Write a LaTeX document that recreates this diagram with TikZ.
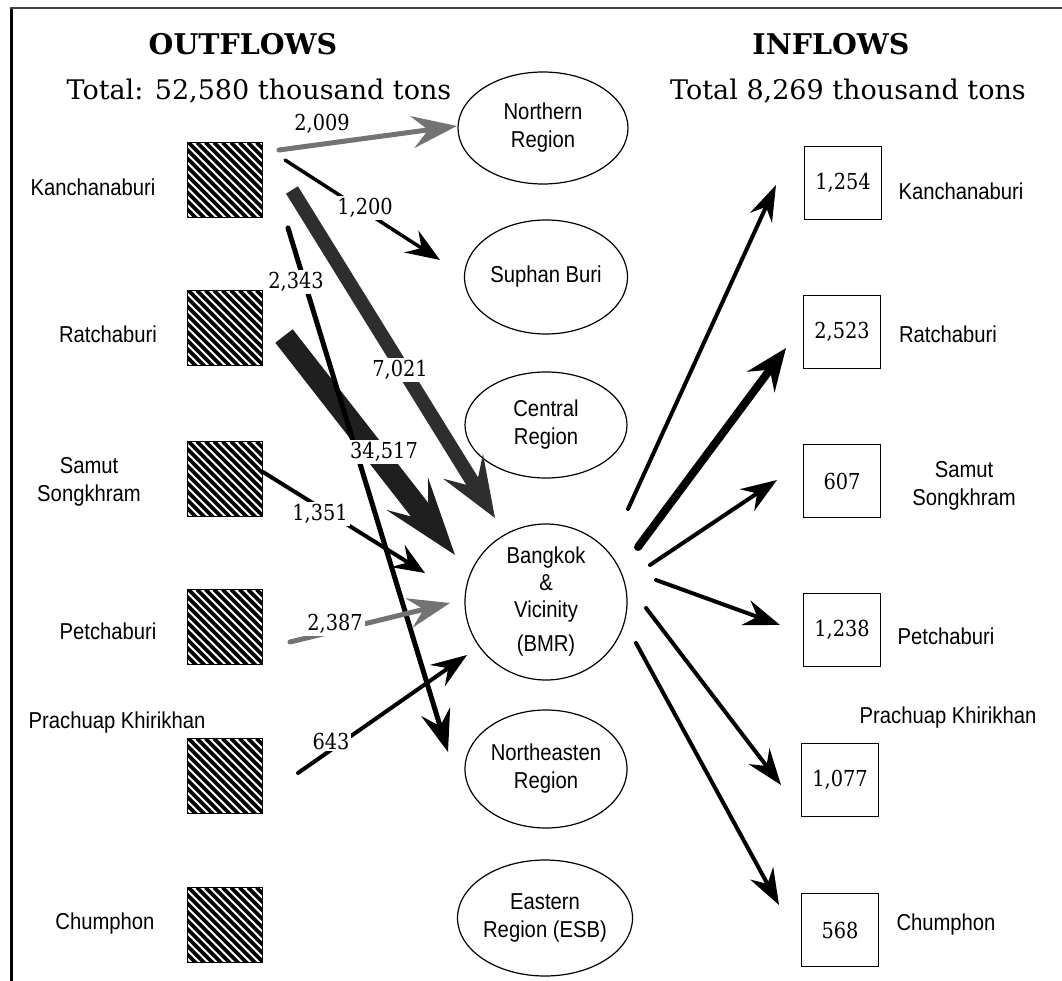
\documentclass[tikz,border=0pt]{standalone}
\usepackage{fontspec}
\setmainfont{DejaVu Serif}
\newfontfamily\lab[FakeStretch=0.88]{Liberation Sans}
\newfontfamily\numf[FakeStretch=0.88]{DejaVu Serif}
\usetikzlibrary{arrows.meta,shapes.geometric}
\begin{document}
\begin{tikzpicture}[x=1pt,y=-1pt,
  hbox/.style={draw, line width=1.5pt, minimum width=75pt, minimum height=75pt, inner sep=0pt,
    path picture={\foreach \i in {-84,-75.5,...,80}{\draw[line width=3.6pt] ([xshift=\i pt]path picture bounding box.north west) -- ++(90,90);}}},
  rbox/.style={draw, line width=1.3pt, minimum width=77pt, minimum height=73pt, inner sep=0pt, font=\numf\fontsize{22}{24}\selectfont},
  ell/.style={draw, ellipse, line width=1.2pt, inner sep=0pt, align=center, font=\lab\fontsize{23}{28}\selectfont},
  lbl/.style={align=center, inner sep=0pt, font=\lab\fontsize{23}{28}\selectfont},
  head/.style={font=\bfseries\fontsize{28.5}{30}\selectfont},
  total/.style={font=\fontsize{27}{30}\selectfont},
  num/.style={inner sep=2pt, font=\numf\fontsize{22}{24}\selectfont},
  numw/.style={num, fill=white},
  flow/.style={line width=#1, line cap=round},
  band/.style={line width=#1}
]
\useasboundingbox (0,0) rectangle (1062,981);
\fill[white] (0,0) rectangle (1062,981);
% frame
\draw[line width=3pt] (11,7) -- (11,981);
\draw[line width=1.5pt, black!75] (10,8) -- (1062,8);

% headers
\node[head] (hout) at (243,44) {OUTFLOWS};
\node[total] (tout) at (259,91) {Total: 52,580 thousand tons};
\node[head] (hin) at (831,44) {INFLOWS};
\node[total] (tin) at (848,91) {Total 8,269 thousand tons};

% left boxes and labels
\node[hbox] (ok) at (225,180) {};
\node[hbox] (or) at (225,328) {};
\node[hbox] (os) at (225,479) {};
\node[hbox] (op) at (225,627) {};
\node[hbox] (opk) at (225,776) {};
\node[hbox] (oc) at (225,925) {};
\node[lbl] (lk) at (93,187) {Kanchanaburi};
\node[lbl] (lr) at (108,334) {Ratchaburi};
\node[lbl] (ls) at (89,482) {Samut\\Songkhram};
\node[lbl] (lp) at (108,631) {Petchaburi};
\node[lbl] (lpk) at (117,723) {Prachuap Khirikhan};
\node[lbl] (lc) at (105,924) {Chumphon};

% ellipses
\node[ell, minimum width=170pt, minimum height=112pt] (enorth) at (543,128) {Northern\\Region};
\node[ell, minimum width=163pt, minimum height=114pt] (esuph) at (546,277) {Suphan Buri};
\node[ell, minimum width=162pt, minimum height=106pt] (ecent) at (546,425) {Central\\Region};
\node[ell, minimum width=162pt, minimum height=156pt] (ebmr) at (546,602) {Bangkok\\[-1pt]\&\\[-1pt]Vicinity\\[6pt](BMR)};
\node[ell, minimum width=162pt, minimum height=118pt] (ene) at (546,769) {Northeasten\\Region};
\node[ell, minimum width=160pt, minimum height=116pt] (eeast) at (545,918) {Eastern\\Region (ESB)};

% right boxes and labels
\node[rbox] (ik) at (843,183) {1,254};
\node[rbox] (ir) at (842,332) {2,523};
\node[rbox] (is) at (842,481) {607};
\node[rbox] (ip) at (842,630) {1,238};
\node[rbox] (ipk) at (840,780) {1,077};
\node[rbox] (ic) at (840,930) {568};
\node[lbl] (rk) at (961,191) {Kanchanaburi};
\node[lbl] (rr) at (948,334) {Ratchaburi};
\node[lbl] (rs) at (964,486) {Samut\\Songkhram};
\node[lbl] (rp) at (946,636) {Petchaburi};
\node[lbl] (rpk) at (948,718) {Prachuap Khirikhan};
\node[lbl] (rc) at (946,925) {Chumphon};

% outflow arrow end points
\coordinate (a1s) at (279,150); \coordinate (a1e) at (457,126);
\coordinate (a2s) at (285,160); \coordinate (a2e) at (440,260);
\coordinate (a3s) at (292,190); \coordinate (a3e) at (495,518);
\coordinate (a4s) at (288,228); \coordinate (a4e) at (448,752);
\coordinate (a5s) at (284,336); \coordinate (a5e) at (455,555);
\coordinate (a6s) at (263,472); \coordinate (a6e) at (425,573);
\coordinate (a7s) at (290,642); \coordinate (a7e) at (450,603);
\coordinate (a8s) at (298,773); \coordinate (a8e) at (467,655);
% inflow arrow end points
\coordinate (b1s) at (628,509); \coordinate (b1e) at (776,185);
\coordinate (b2s) at (638,547); \coordinate (b2e) at (786,348);
\coordinate (b3s) at (650,565); \coordinate (b3e) at (777,480);
\coordinate (b4s) at (656,580); \coordinate (b4e) at (780,625);
\coordinate (b5s) at (646,608); \coordinate (b5e) at (781,785);
\coordinate (b6s) at (636,643); \coordinate (b6e) at (779,905);

% outflows
\draw[flow=5pt, black!55, -{Stealth[length=45pt,width=32pt,inset=16pt]}] (a1s) -- (a1e);
\draw[flow=3.5pt, -{Stealth[length=34pt,width=26pt,inset=12pt]}] (a2s) -- (a2e);
\draw[band=14pt, black!82, -{Stealth[length=60pt,width=46pt,inset=24pt]}] (a3s) -- (a3e);
\draw[band=22pt, black!88, -{Stealth[length=77pt,width=52pt,inset=34pt]}] (a5s) -- (a5e);
\draw[flow=5pt, -{Stealth[length=42pt,width=30pt,inset=15pt]}] (a4s) -- (a4e);
\draw[flow=4pt, -{Stealth[length=32pt,width=26pt,inset=12pt]}] (a6s) -- (a6e);
\draw[flow=5pt, black!55, -{Stealth[length=42pt,width=30pt,inset=15pt]}] (a7s) -- (a7e);
\draw[flow=4pt, -{Stealth[length=36pt,width=26pt,inset=13pt]}] (a8s) -- (a8e);

% inflows
\draw[flow=4pt, -{Stealth[length=36pt,width=24pt,inset=12pt]}] (b1s) -- (b1e);
\draw[flow=8pt, -{Stealth[length=42pt,width=34pt,inset=15pt]}] (b2s) -- (b2e);
\draw[flow=4pt, -{Stealth[length=36pt,width=26pt,inset=12pt]}] (b3s) -- (b3e);
\draw[flow=4pt, -{Stealth[length=36pt,width=26pt,inset=12pt]}] (b4s) -- (b4e);
\draw[flow=4pt, -{Stealth[length=36pt,width=26pt,inset=12pt]}] (b5s) -- (b5e);
\draw[flow=4pt, -{Stealth[length=36pt,width=26pt,inset=12pt]}] (b6s) -- (b6e);

% flow labels
\node[num] (n2009) at (322,124) {2,009};
\node[numw] (n1200) at (365,208) {1,200};
\node[numw] (n7021) at (400,370) {7,021};
\node[numw] (n2343) at (296,282) {2,343};
\node[numw] (n34517) at (384,452) {34,517};
\node[numw] (n1351) at (320,514) {1,351};
\node[numw] (n2387) at (335,624) {2,387};
\node[numw] (n643) at (331,741) {643};
\end{tikzpicture}
\end{document}
